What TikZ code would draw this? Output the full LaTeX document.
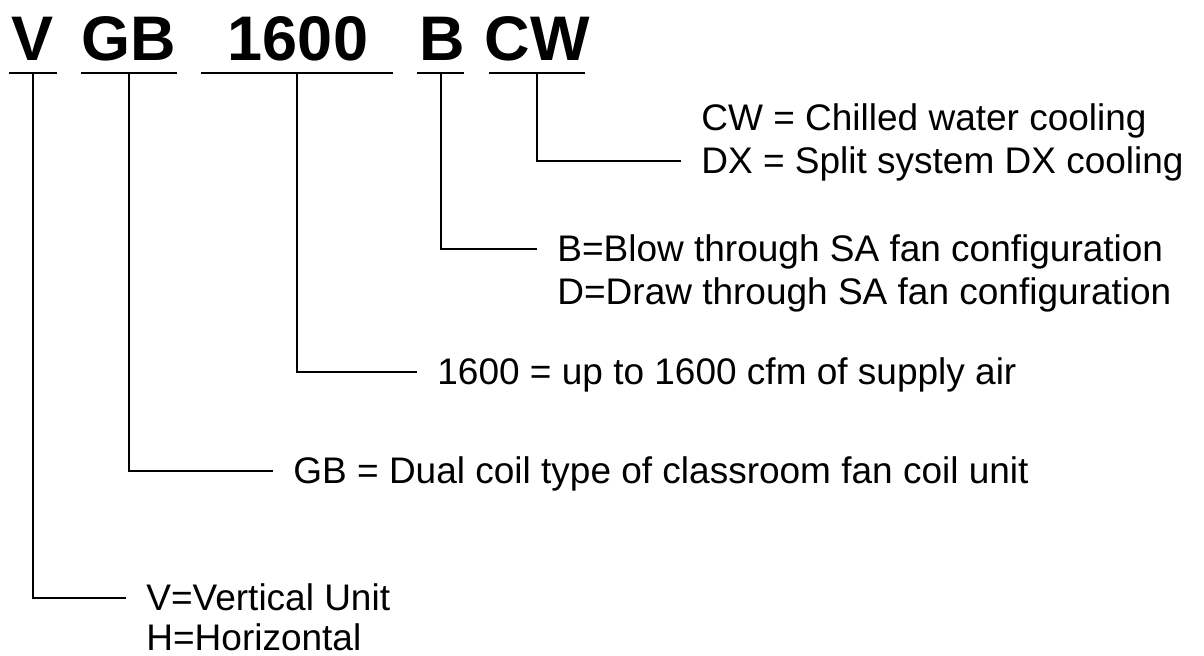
\documentclass[tikz,border=0pt]{standalone}
\usepackage{fontspec}
\setmainfont{Liberation Sans}
\usetikzlibrary{positioning}
\begin{document}
\begin{tikzpicture}[x=0.5pt,y=-0.5pt,
        code/.style={font=\fontsize{31.5}{36}\selectfont\bfseries,inner sep=0pt,anchor=base},
        desc/.style={font=\fontsize{18.5}{21}\selectfont,inner xsep=10pt,inner ysep=4.2pt,text height=12.6pt,text depth=0pt,anchor=base west},
        leg/.style={line width=1pt}]
        \useasboundingbox (0,0) rectangle (1204,656);

        % model code
        \node[code] (v) at (33,61) {V};
        \node[code] (gb) at (129,61) {GB};
        \node[code] (cfm) at (298,61) {1600};
        \node[code] (fan) at (442,61) {B};
        \node[code] (cw) at (537,61) {CW};

        % underlines
        \coordinate (v-ul) at (33,73);
        \coordinate (gb-ul) at (129,73);
        \coordinate (cfm-ul) at (297,73);
        \coordinate (fan-ul) at (441,73);
        \coordinate (cw-ul) at (537,73);
        \draw[leg] (9,73) -- (57,73);
        \draw[leg] (81,73) -- (177,73);
        \draw[leg] (201,73) -- (393,73);
        \draw[leg] (417,73) -- (464,73);
        \draw[leg] (489,73) -- (585,73);

        % meanings
        \node[desc] (cw1) at (681,131) {CW = Chilled water cooling};
        \node[desc,anchor=north west] (cw2) at (cw1.south west) {DX = Split system DX cooling};
        \node[desc] (fan1) at (537,262) {B=Blow through SA fan configuration};
        \node[desc,anchor=north west] (fan2) at (fan1.south west) {D=Draw through SA fan configuration};
        \node[desc] (cfm1) at (417,385) {1600 = up to 1600 cfm of supply air};
        \node[desc] (gb1) at (273,484) {GB = Dual coil type of classroom fan coil unit};
        \node[desc] (v1) at (126,611) {V=Vertical Unit};
        \node[desc,inner ysep=1pt] (v2) at (126,651) {H=Horizontal};

        \draw[leg] (cw-ul) |- (cw2.west);
        \draw[leg] (fan-ul) |- (fan1.west);
        \draw[leg] (cfm-ul) |- (cfm1.west);
        \draw[leg] (gb-ul) |- (gb1.west);
        \draw[leg] (v-ul) |- (v1.west);
\end{tikzpicture}
\end{document}
